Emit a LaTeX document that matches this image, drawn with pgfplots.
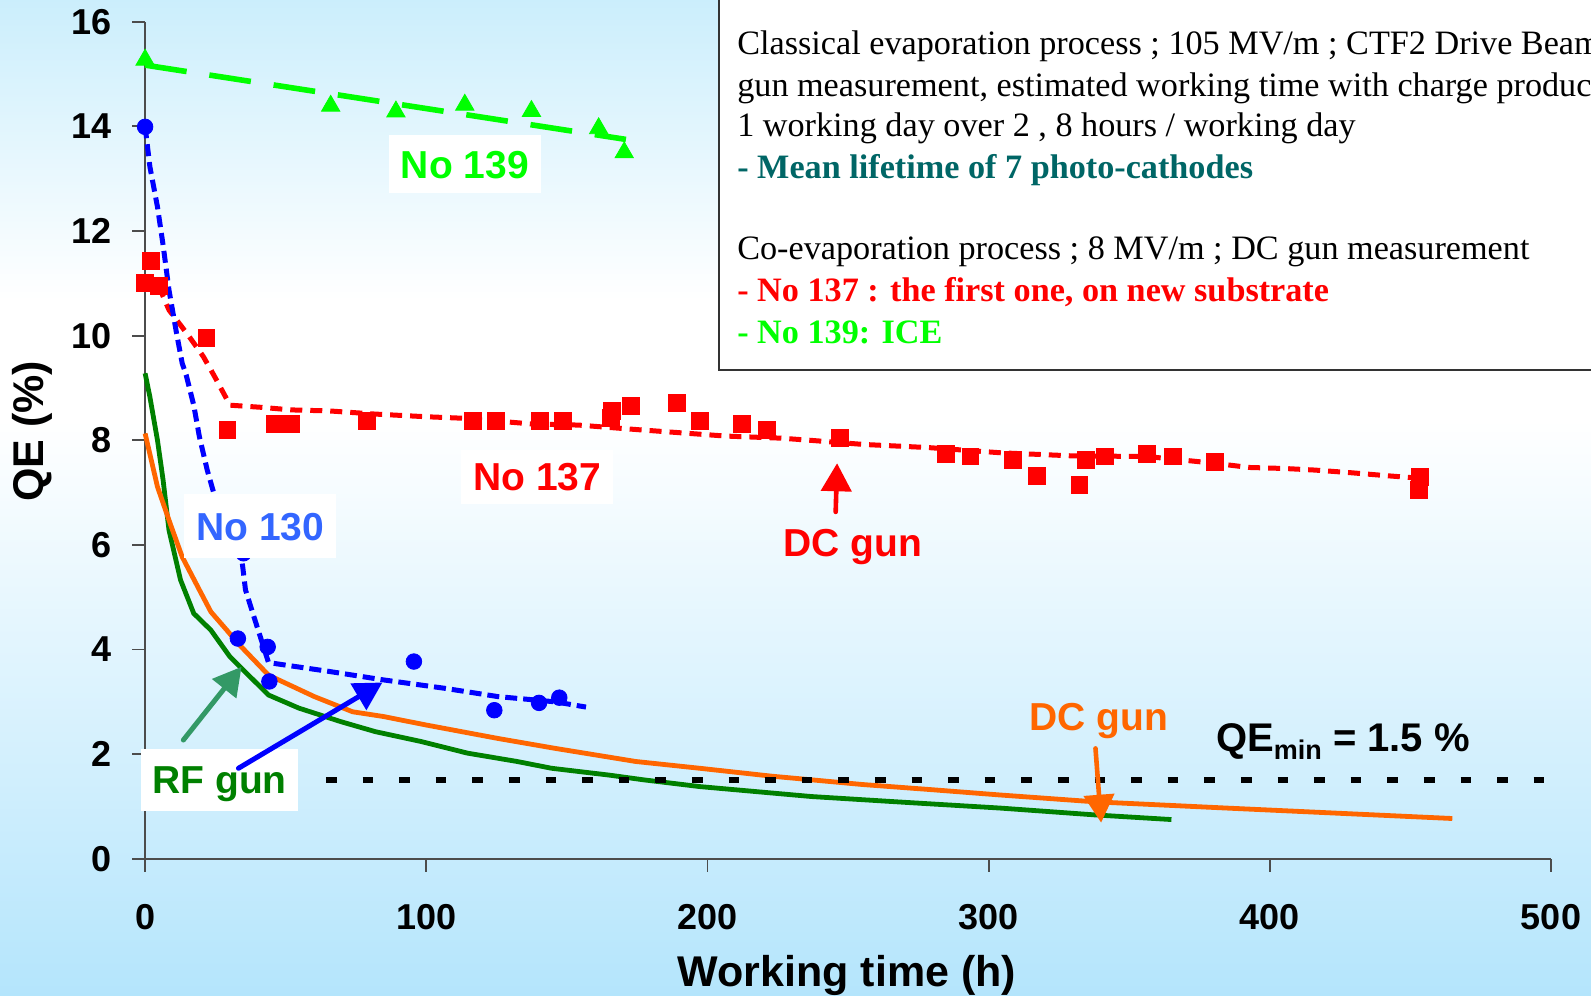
\documentclass[border=0pt]{standalone}
\usepackage{pgfplots}
\pgfplotsset{compat=1.18}
\usepackage{fontspec}
\setmainfont{Liberation Serif}
\newfontfamily\arial{Liberation Sans}
\usetikzlibrary{arrows.meta}
\definecolor{bgtop}{RGB}{203,238,252}
\definecolor{bgbot}{RGB}{180,229,252}
\definecolor{cLime}{RGB}{0,255,0}
\definecolor{cBlue}{RGB}{0,0,255}
\definecolor{cLblue}{RGB}{51,102,255}
\definecolor{cRed}{RGB}{255,0,0}
\definecolor{cOrange}{RGB}{255,102,0}
\definecolor{cGreen}{RGB}{0,128,0}
\definecolor{cTealArrow}{RGB}{51,153,102}
\definecolor{cTeal}{RGB}{0,102,102}
\newcommand\lab{\arial\bfseries\fontsize{19.5}{19.5}\selectfont}
\newcommand\info{\fontsize{17.1}{17.1}\selectfont}

\pgfplotstableread{
h v
0 15.27
66.0 14.39
89.2 14.28
113.7 14.41
137.4 14.29
161.3 13.96
170.4 13.50
}\nooneninepts
\pgfplotstableread{
h v
0 13.99
33.0 4.21
35.0 5.84
43.6 4.05
44.2 3.39
95.6 3.77
124.2 2.84
140.1 2.98
147.3 3.08
}\noonethirtypts
\pgfplotstableread{
h v
0 14.0
1.7 13.23
4.4 12.46
6.4 11.73
8.5 10.87
11.2 10.04
13.2 9.47
14.6 9.25
17.3 8.67
19.3 8.07
22.1 7.43
24.8 6.92
34.3 5.77
35.7 5.14
39.8 4.44
41.0 4.24
43.9 3.75
65.6 3.58
84.7 3.42
106.4 3.26
125.5 3.10
145.9 3.00
156.8 2.90
}\noonethirtytrend
\pgfplotstableread{
h v
0 11.00
2.1 11.43
4.8 10.95
21.8 9.96
29.3 8.20
46.3 8.32
52.0 8.32
79.0 8.37
116.6 8.37
124.8 8.37
140.5 8.37
148.6 8.37
165.6 8.42
166.0 8.56
172.8 8.65
189.1 8.72
197.3 8.37
212.2 8.31
221.1 8.20
247.0 8.04
284.7 7.74
293.5 7.69
308.5 7.62
317.1 7.32
332.3 7.14
334.7 7.62
341.4 7.69
356.4 7.74
365.4 7.69
380.4 7.59
453.5 7.30
453.1 7.05
}\noonethirtysevenpts
\pgfplotstableread{
h v
4.8 10.95
8.5 10.49
15.3 10.01
20.7 9.60
24.8 9.21
30.2 8.67
41.1 8.63
52 8.58
65.6 8.56
81.9 8.50
99.7 8.45
113.3 8.42
137.8 8.31
154.1 8.29
175.8 8.20
206.4 8.08
226.1 8.04
236.3 8.00
255.4 7.92
278.5 7.86
304.4 7.76
330.3 7.70
356.1 7.69
380.4 7.56
392.5 7.48
405.3 7.46
416 7.43
428.7 7.38
442.1 7.32
454.2 7.27
}\noonethirtyseventrend
\pgfplotstableread{
h v
0 8.13
4.4 7.11
9.1 6.38
13.2 5.77
19.3 5.14
23.4 4.72
28.9 4.38
33.0 4.12
43.9 3.51
60.2 3.10
73.8 2.81
84.7 2.72
99.7 2.56
125.5 2.30
145.9 2.11
174.5 1.86
197.3 1.73
222.7 1.58
255.1 1.42
280 1.32
304 1.22
337.5 1.09
384.5 0.97
424.7 0.87
464.9 0.77
}\dcmean
\pgfplotstableread{
h v
0 9.28
1.7 8.83
4.4 8.00
6.4 7.24
8.5 6.28
12.6 5.33
17.3 4.69
23.4 4.37
30.2 3.86
43.9 3.13
54.7 2.88
69.7 2.62
81.9 2.43
98.3 2.24
114.6 2.02
132.3 1.86
144.6 1.73
165 1.60
177.2 1.51
197.3 1.38
237 1.19
270 1.08
304 0.97
337.5 0.84
365 0.75
}\rfmean

\begin{document}
\begin{tikzpicture}
\path[use as bounding box] (-72.55pt,-68.6pt) rectangle (722.95pt,429.4pt);
\clip (-72.55pt,-68.6pt) rectangle (722.95pt,429.4pt);
\shade[bottom color=bgbot, top color=white] (-73pt,-69pt) rectangle (723.5pt,219.4pt);
\fill[white] (-73pt,219.3pt) rectangle (723.5pt,279.5pt);
\shade[bottom color=white, top color=bgtop] (-73pt,279.4pt) rectangle (723.5pt,430pt);

\begin{axis}[
  at={(0pt,0pt)}, anchor=south west,
  scale only axis, width=702.95pt, height=418.55pt,
  xmin=0, xmax=500, ymin=0, ymax=16,
  axis lines*=left,
  axis line style={-, draw=black!70, line width=0.9pt},
  xtick={0,100,...,500}, ytick={0,2,...,16},
  tick align=outside,
  major tick length=6.5pt,
  tick style={draw=black!70, line width=0.9pt},
  minor tick num=0,
  /pgf/number format/assume math mode=true,
  ticklabel style={font=\arial\bfseries\fontsize{18}{18}\selectfont, inner sep=0pt},
  xticklabel style={anchor=north, yshift=-16pt},
  yticklabel style={anchor=east, xshift=-10pt},
  clip=false,
]
\addplot[no marks, cGreen, line width=2.4pt] table[x=h,y=v] {\rfmean};
\addplot[no marks, cOrange, line width=2.4pt] table[x=h,y=v] {\dcmean};
\addplot[no marks, black, line width=3pt, dash pattern=on 5.3pt off 13pt] coordinates {(64.3,1.5) (498,1.5)};

\addplot[only marks, mark=triangle*, mark size=5.3pt, color=cLime] table[x=h,y=v] {\nooneninepts};
\addplot[only marks, mark=square*, mark size=4.2pt, color=cRed] table[x=h,y=v] {\noonethirtysevenpts};
\addplot[only marks, mark=*, mark size=3.9pt, color=cBlue] table[x=h,y=v] {\noonethirtypts};

\addplot[no marks, cLime, line width=2.8pt, dash pattern=on 21pt off 11.5pt] coordinates {(0,15.17) (171,13.75)};
\addplot[no marks, cRed, line width=2.5pt, dash pattern=on 6pt off 4pt] table[x=h,y=v] {\noonethirtyseventrend};
\addplot[no marks, cBlue, line width=2.5pt, dash pattern=on 6pt off 3pt] table[x=h,y=v] {\noonethirtytrend};

% anchor points for annotations drawn on top after the axis
\coordinate (L139) at (axis cs:113.7,13.28);
\coordinate (L137) at (axis cs:139.5,7.30);
\coordinate (L130) at (axis cs:41.0,6.36);
\coordinate (LRF) at (axis cs:26.5,1.51);
\coordinate (LDCr) at (axis cs:251.8,5.77);
\coordinate (LDCo) at (axis cs:339.1,2.46);
\coordinate (LQE) at (axis cs:426.0,2.05);
\coordinate (Ar1) at (axis cs:245.6,6.63);
\coordinate (Ar2) at (axis cs:246.1,7.56);
\coordinate (Ao1) at (axis cs:338.0,2.11);
\coordinate (Ao2) at (axis cs:340.0,0.69);
\coordinate (At1) at (axis cs:13.6,2.27);
\coordinate (At2) at (axis cs:34.3,3.67);
\coordinate (Ab1) at (axis cs:33.2,1.73);
\coordinate (Ab2) at (axis cs:84.4,3.37);
\end{axis}

% labels
\node[fill=white, minimum width=76pt, minimum height=29.4pt, inner sep=0pt, text height=14pt, text depth=0pt, font=\lab, text=cLime] at (L139) {No 139};
\node[fill=white, minimum width=76pt, minimum height=27pt, inner sep=0pt, text height=14pt, text depth=0pt, font=\lab, text=cRed] at (L137) {No 137};
\node[fill=white, minimum width=76pt, minimum height=32pt, inner sep=0pt, text height=14pt, text depth=0pt, font=\lab, text=cLblue] at (L130) {No 130};
\node[fill=white, minimum width=78.5pt, minimum height=31.2pt, inner sep=0pt, text height=14pt, text depth=0pt, font=\lab, text=cGreen] at (LRF) {RF gun};
\node[anchor=base, inner sep=0pt, font=\lab, text=cRed] at (LDCr) {DC gun};
\node[anchor=base, inner sep=0pt, font=\lab, text=cOrange] at (LDCo) {DC gun};
\node[anchor=base, inner sep=0pt, font=\arial\bfseries\fontsize{20}{20}\selectfont, text=black] at (LQE) {QE\raisebox{-4pt}{\fontsize{13.5}{13.5}\selectfont min} = 1.5 \%};

% arrows (on top of label boxes)
\draw[cRed, line width=2.3pt, line cap=round, -{Triangle[width=15pt,length=14pt]}] (Ar1) -- (Ar2);
\draw[cOrange, line width=2.3pt, line cap=round, -{Triangle[width=15pt,length=14pt]}] (Ao1) -- (Ao2);
\draw[cTealArrow, line width=2.5pt, line cap=round, -{Triangle[width=15pt,length=14pt]}] (At1) -- (At2);
\draw[cBlue, line width=2.5pt, line cap=round, -{Triangle[width=15pt,length=14pt]}] (Ab1) -- (Ab2);

% axis titles
\node[anchor=base, inner sep=0pt, font=\arial\bfseries\fontsize{21.5}{21.5}\selectfont] at (350.85pt,-63.95pt) {Working time (h)};
\node[rotate=90, anchor=base, inner sep=0pt, font=\arial\bfseries\fontsize{21.5}{21.5}\selectfont] at (-51pt,213.65pt) {QE (\%)};

% info box
\draw[fill=white, draw=black!80, line width=1pt] (286.8pt,244.4pt) rectangle (740pt,440pt);
\node[anchor=base west, inner sep=0pt, font=\info] at (295.9pt,401.9pt) {Classical evaporation process ; 105 MV/m ; CTF2 Drive Beam};
\node[anchor=base west, inner sep=0pt, font=\info] at (295.9pt,381.05pt) {gun measurement, estimated working time with charge production};
\node[anchor=base west, inner sep=0pt, font=\info] at (295.9pt,361.05pt) {1 working day over 2 , 8 hours / working day};
\node[anchor=base west, inner sep=0pt, font=\info\bfseries, text=cTeal] at (295.9pt,340.25pt) {- Mean lifetime of 7 photo-cathodes};
\node[anchor=base west, inner sep=0pt, font=\info] at (295.9pt,299.4pt) {Co-evaporation process ; 8 MV/m ; DC gun measurement};
\node[anchor=base west, inner sep=0pt, font=\info\bfseries, text=cRed] at (295.9pt,278.55pt) {- No 137 : the first one, on new substrate};
\node[anchor=base west, inner sep=0pt, font=\info\bfseries, text=cLime] at (295.9pt,257.75pt) {- No 139: ICE};
\end{tikzpicture}
\end{document}
